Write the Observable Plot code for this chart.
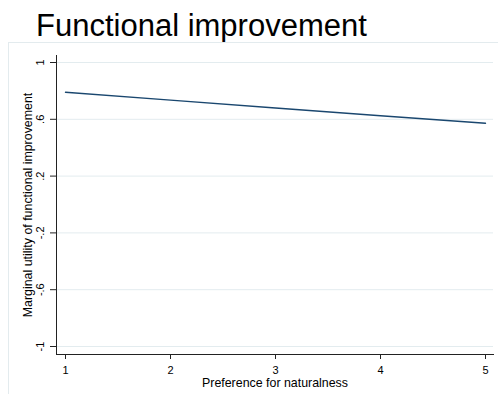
<!DOCTYPE html>
<html>
<head>
<meta charset="utf-8">
<script src="https://cdn.jsdelivr.net/npm/d3@7"></script>
<script src="https://cdn.jsdelivr.net/npm/@observablehq/plot@0.6"></script>
<style>
  html, body { margin: 0; padding: 0; background: #fff; }
  body { width: 498px; height: 394px; overflow: hidden; position: relative; font-family: "Liberation Sans", Arial, sans-serif; }
  #title { height: 42px; box-sizing: border-box; padding-top: 10px; padding-left: 36px; font-size: 31px; line-height: 31px; color: #000; white-space: nowrap; }
  #box { position: absolute; left: 8px; top: 42px; width: 520px; height: 400px; border-left: 1px solid #e3ebee; border-top: 1px solid #e3ebee; box-sizing: border-box; pointer-events: none; }
  #chart { position: absolute; left: 0; top: 42px; }
</style>
</head>
<body>
<div id="title">Functional improvement</div>
<div id="box"></div>
<div id="chart"></div>
<script>
// Data
const preference = [1, 2, 3, 4, 5];
const marginalUtility = [0.79, 0.735, 0.68, 0.625, 0.572];
const xTicks = [1, 2, 3, 4, 5];
const yTicks = [-1, -0.6, -0.2, 0.2, 0.6, 1];
const yTickLabels = ["-1", "-.6", "-.2", ".2", ".6", "1"];
const xTitle = "Preference for naturalness";
const yTitle = "Marginal utility of functional improvement";

const data = preference.map((p, i) => ({x: p, y: marginalUtility[i]}));
const yLabelOf = new Map(yTicks.map((t, i) => [t, yTickLabels[i]]));

const chart = Plot.plot({
  width: 498,
  height: 352,
  marginTop: 13,
  marginBottom: 40,
  marginLeft: 56,
  marginRight: 5,
  style: {fontFamily: "Liberation Sans, Arial, sans-serif", fontSize: "11px", color: "#000", background: "transparent"},
  x: {domain: [1, 5], insetLeft: 9, insetRight: 8},
  y: {domain: [-1, 1], insetTop: 7, insetBottom: 8},
  marks: [
    Plot.gridY(yTicks, {stroke: "#e3ecef", strokeOpacity: 1, strokeWidth: 1}),
    Plot.frame({anchor: "left", stroke: "#222", strokeWidth: 1}),
    Plot.frame({anchor: "bottom", stroke: "#222", strokeWidth: 1}),
    Plot.axisX(xTicks, {tickSize: 5, tickPadding: 7, stroke: "#222", fill: "#000", fontSize: 11, label: null, tickFormat: d => String(d)}),
    Plot.axisY(yTicks, {tickSize: 6, tickFormat: () => "", stroke: "#222", label: null}),
    Plot.text(yTicks, {y: d => d, text: d => yLabelOf.get(d), frameAnchor: "left", dx: -13, rotate: -90, textAnchor: "middle", lineAnchor: "bottom", fontSize: 11, fill: "#000"}),
    Plot.text([yTitle], {text: d => d, frameAnchor: "left", dx: -25, rotate: -90, textAnchor: "middle", lineAnchor: "bottom", fontSize: 12.4, fill: "#000"}),
    Plot.text([xTitle], {text: d => d, frameAnchor: "bottom", dy: 32, textAnchor: "middle", lineAnchor: "bottom", fontSize: 12.4, fill: "#000"}),
    Plot.line(data, {x: "x", y: "y", stroke: "#1a476f", strokeWidth: 1.4})
  ]
});
document.getElementById("chart").appendChild(chart);
</script>
</body>
</html>
